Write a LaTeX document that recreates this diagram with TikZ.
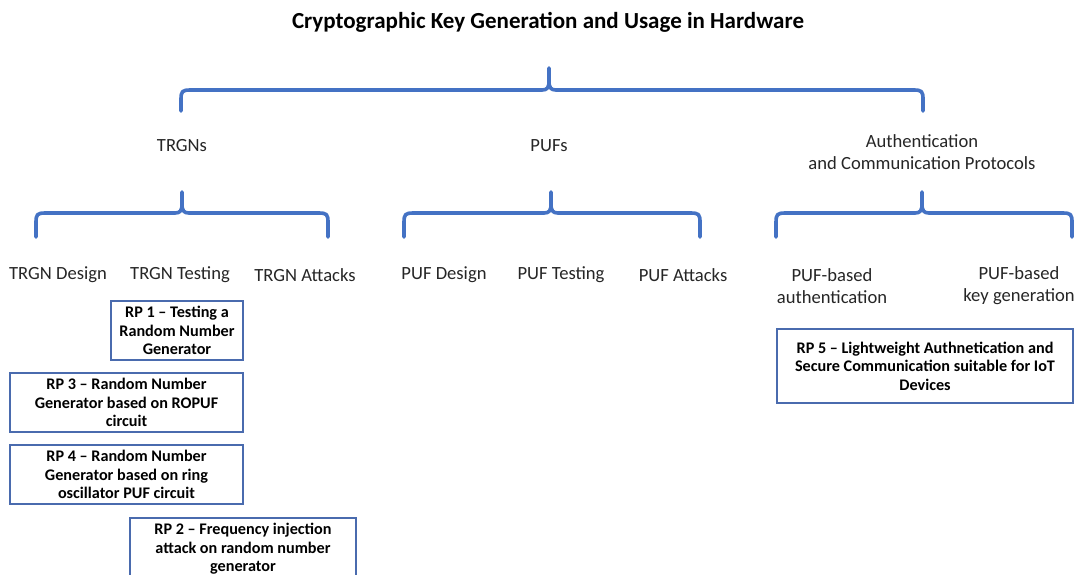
\documentclass[tikz,border=0pt]{standalone}
\usepackage{fontspec}
\setmainfont{Carlito}
\begin{document}
\begin{tikzpicture}[x=1pt,y=-1pt,
  bracecol/.style={draw=braceblue,line width=3.6pt,line cap=round,line join=round},
  label/.style={align=center,font=\fontsize{18.6}{22}\selectfont,text=black!85,inner sep=0pt},
  rpbox/.style={draw=boxblue,line width=1.2pt,align=center,inner sep=2pt,
    font=\fontsize{16.2}{18.6}\selectfont\bfseries,text=black},
  titlestyle/.style={font=\fontsize{23}{27}\selectfont\bfseries,text=black,inner sep=0pt}]
\definecolor{braceblue}{HTML}{4472C4}
\definecolor{boxblue}{HTML}{4A6BAE}
\clip (0,0) rectangle (1078,574);
\fill[white] (0,0) rectangle (1078,574);

% brace: left x, right x, middle x, tip y, bar y, foot y
\newcommand{\curlybrace}[6]{%
  \draw[bracecol] (#1,#6) -- (#1,#5+10) .. controls (#1,#5+1) and (#1+1,#5) .. (#1+10,#5)
    -- (#3-7,#5) .. controls (#3-2,#5) and (#3,#5-2) .. (#3,#5-9) -- (#3,#4)
    -- (#3,#5-9) .. controls (#3,#5-2) and (#3+2,#5) .. (#3+7,#5)
    -- (#2-10,#5) .. controls (#2-1,#5) and (#2,#5+1) .. (#2,#5+10) -- (#2,#6);}

\node[titlestyle] (title) at (548,22) {Cryptographic Key Generation and Usage in Hardware};

\curlybrace{181}{923}{549}{68}{90}{111}

\node[label] (trgns) at (182,146) {TRGNs};
\node[label] (pufs) at (549,146) {PUFs};
\node[label] (auth) at (922,152) {Authentication\\and Communication Protocols};

\curlybrace{36}{328}{182}{192}{213}{237}
\curlybrace{404}{700}{551}{192}{213}{237}
\curlybrace{776}{1072}{922}{192}{213}{237}

\node[label] (tdesign) at (58,275) {TRGN Design};
\node[label] (ttest) at (180,275) {TRGN Testing};
\node[label] (tatt) at (305,275) {TRGN Attacks};
\node[label] (pdesign) at (444,275) {PUF Design};
\node[label] (ptest) at (561,275) {PUF Testing};
\node[label] (patt) at (683,275) {PUF Attacks};
\node[label] (pauth) at (832,286) {PUF-based\\authentication};
\node[label] (pkey) at (1019,286) {PUF-based\\key generation};

\node[rpbox,minimum width=132pt,minimum height=59pt] (rp1) at (177,330.5)
  {RP 1 -- Testing a\\Random Number\\Generator};
\node[rpbox,minimum width=233pt,minimum height=59pt] (rp3) at (126.5,402.5)
  {RP 3 -- Random Number\\Generator based on ROPUF\\circuit};
\node[rpbox,minimum width=233pt,minimum height=59pt] (rp4) at (126.5,474.5)
  {RP 4 -- Random Number\\Generator based on ring\\oscillator PUF circuit};
\node[rpbox,minimum width=226pt,minimum height=62pt] (rp2) at (243,549)
  {RP 2 -- Frequency injection\\attack on random number\\generator};
\node[rpbox,minimum width=296pt,minimum height=74pt] (rp5) at (925,366)
  {RP 5 -- Lightweight Authnetication and\\Secure Communication suitable for IoT\\Devices};
\end{tikzpicture}
\end{document}
